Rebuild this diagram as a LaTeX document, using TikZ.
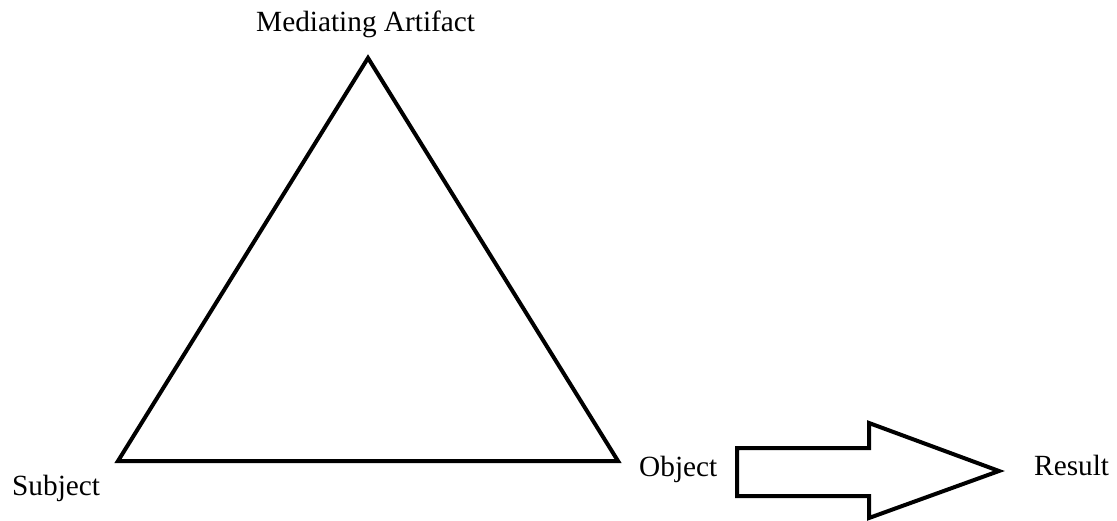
\documentclass[tikz,border=0pt]{standalone}
\usepackage{fontspec}
\setmainfont{Liberation Serif}
\begin{document}
\begin{tikzpicture}[x=1pt,y=-1pt,
  lbl/.style={anchor=base west,inner sep=0pt,font=\fontsize{29.3}{32}\selectfont},
  edge/.style={line width=4pt,line join=miter}]
\useasboundingbox (0,0) rectangle (1117,521);
\coordinate (top) at (368,58);
\coordinate (bl) at (118,461);
\coordinate (br) at (618,461);
\draw[edge] (top) -- (bl) -- (br) -- cycle;
\node[lbl] (med) at (256,32) {Mediating Artifact};
\node[lbl] (subj) at (12,495) {Subject};
\node[lbl] (obj) at (639,476) {Object};
\node[lbl] (res) at (1034,475) {Result};
\coordinate (a1) at (737,448);
\coordinate (a2) at (869,448);
\coordinate (a3) at (869,423);
\coordinate (a4) at (999,471);
\coordinate (a5) at (869,518);
\coordinate (a6) at (869,496);
\coordinate (a7) at (737,496);
\draw[edge] (a1) -- (a2) -- (a3) -- (a4) -- (a5) -- (a6) -- (a7) -- cycle;
\end{tikzpicture}
\end{document}
